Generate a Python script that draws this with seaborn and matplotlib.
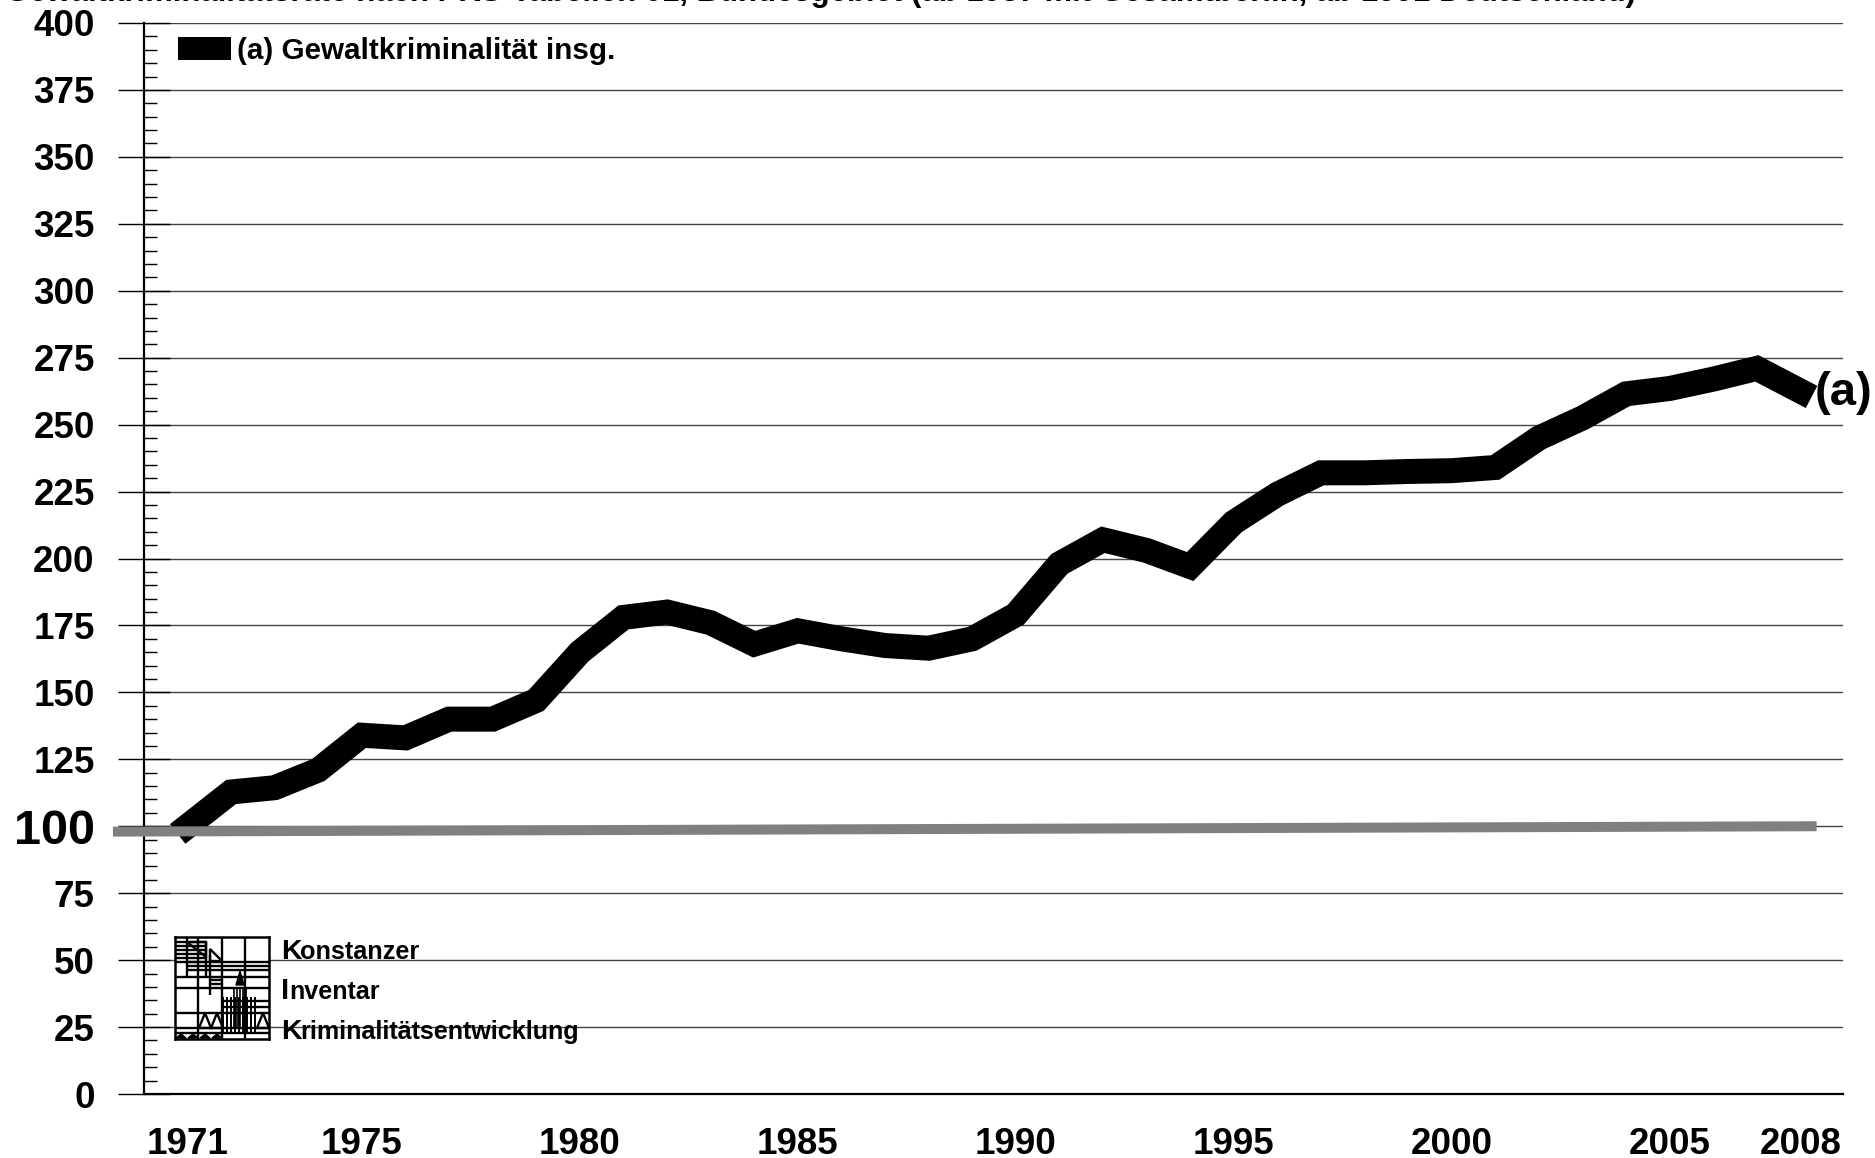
import matplotlib
matplotlib.use("Agg")
from matplotlib.patches import Patch
import matplotlib.pyplot as plt
import pandas as pd
import seaborn as sns

W, H = 1875, 1158

years = list(range(1971, 2009))
rate = [100, 112.8, 114.4, 121, 134, 133, 140, 140, 147, 165,
        178, 180, 176, 168, 173, 170, 167.5, 166.5, 170, 179,
        198, 207, 203, 197, 213.5, 224, 232, 232, 232.5, 232.8,
        234, 245, 252.5, 261.5, 263.5, 267, 271, 262.5]
baseline_years = [1969.29, 2008.37]
baseline = [98, 100]

y_ticks = list(range(0, 401, 25))
x_ticks = [1971, 1975, 1980, 1985, 1990, 1995, 2000, 2005, 2008]
title = "Gewaltkriminalitätsrate nach PKS-Tabellen 01, Bundesgebiet (ab 1987 mit Gesamtberlin, ab 1991 Deutschland)"
legend_label = "(a) Gewaltkriminalität insg."

sns.set_theme(style="white")
plt.rcParams["font.family"] = ["Liberation Sans", "DejaVu Sans"]
plt.rcParams["font.weight"] = "bold"
plt.rcParams["text.color"] = "black"
plt.rcParams["xtick.labelcolor"] = "black"
plt.rcParams["ytick.labelcolor"] = "black"

fig = plt.figure(figsize=(W / 100, H / 100), dpi=100)
ax = fig.add_axes([144 / W, 1 - 1094 / H, (1843 - 144) / W, (1094 - 23) / H])

df = pd.DataFrame({"year": years, "rate": rate})
sns.lineplot(data=df, x="year", y="rate", ax=ax, color="black", linewidth=18,
             solid_capstyle="projecting", solid_joinstyle="miter", zorder=3)
sns.lineplot(x=baseline_years, y=baseline, ax=ax, color="#808080", linewidth=7.2,
             solid_capstyle="butt", clip_on=False, zorder=4)

px_year = (1798 - 185) / 37
ax.set_xlim(1971 - 43.5 / px_year, 2008 + 42.5 / px_year)
ax.set_ylim(0, 400)
ax.set_xlabel("")
ax.set_ylabel("")

ax.set_yticks(y_ticks)
ax.set_yticks([v for v in range(0, 400, 5) if v % 25], minor=True)
ax.tick_params(axis="y", which="major", direction="inout", length=37, width=1,
               color="black", pad=17, labelsize=26.5, left=True)
ax.tick_params(axis="y", which="minor", direction="in", length=9, width=1,
               color="black", left=True)
for lab, val in zip(ax.get_yticklabels(), y_ticks):
    lab.set_fontweight("bold")
    if val == 100:
        lab.set_fontsize(35)

ax.set_xticks(x_ticks)
ax.tick_params(axis="x", length=0, pad=24, labelsize=26.5)
for lab in ax.get_xticklabels():
    lab.set_fontweight("bold")

ax.grid(axis="y", which="major", color="#444444", linewidth=1)
ax.grid(axis="x", visible=False)
sns.despine(ax=ax)
ax.spines["left"].set_color("black")
ax.spines["left"].set_linewidth(1.6)
ax.spines["bottom"].set_color("black")
ax.spines["bottom"].set_linewidth(1.6)

ax.legend(handles=[Patch(color="black", label=legend_label, linewidth=0)],
          loc="upper left", bbox_to_anchor=(34 / 1699, 1 - 14 / 1071), frameon=False,
          fontsize=21.3, handlelength=1.78, handleheight=0.8, handletextpad=0.23,
          borderpad=0, borderaxespad=0)

ax.annotate("(a)", xy=(years[-1], rate[-1]), xytext=(10.5, -1), textcoords="offset points",
            fontsize=34, fontweight="bold", va="center", ha="left", annotation_clip=False)

# cut off at the top edge, as in the scan
fig.text(5 / W, 1 - 1 / H, title, fontsize=22.4, fontweight="bold", va="baseline", ha="left")


def ptext(x, y, s, size):
    fig.text(x / W, 1 - y / H, s, fontsize=size, fontweight="bold", va="baseline", ha="left")


ptext(281, 959, "K", 20.5)
ptext(300, 959, "onstanzer", 18.2)
ptext(281, 999, "I", 21)
ptext(289, 999, "nventar", 18.1)
ptext(281, 1039, "K", 20.5)
ptext(300, 1039, "riminalitätsentwicklung", 18.1)

# logo
logo = fig.add_axes([175 / W, 1 - 1039 / H, 94 / W, 102 / H], facecolor="white")
logo.set_xlim(0, 94)
logo.set_ylim(102, 0)
logo.set_xticks([])
logo.set_yticks([])
logo.grid(False)
for sp in logo.spines.values():
    sp.set_color("black")
    sp.set_linewidth(1.8)

lw = 1.7
logo.vlines([23, 47, 70], 0, 102, color="black", lw=lw)
logo.hlines([40, 51, 76, 91, 96], 0, 94, color="black", lw=lw)
logo.hlines([5, 9, 13, 17, 21, 25], 0, 31, color="black", lw=lw)
logo.hlines([25, 29, 33], 12, 94, color="black", lw=lw)
logo.hlines([43, 47], 35, 47, color="black", lw=lw)
logo.vlines(12, 0, 40, color="black", lw=lw)
logo.vlines(31, 5, 40, color="black", lw=lw)
logo.vlines(35, 18, 58, color="black", lw=lw)
logo.vlines(range(48, 82, 4), 60, 96, color="black", lw=1.4)
logo.vlines(range(59, 72, 3), 52, 92, color="black", lw=1.2)
logo.hlines([64, 70], 47, 94, color="black", lw=lw)
logo.fill([61, 65, 69], [48, 34, 48], color="black")
logo.fill([12, 31, 31], [5, 5, 20], facecolor="white", edgecolor="black", lw=lw)
logo.fill([35, 35, 47], [12, 24, 24], facecolor="white", edgecolor="black", lw=lw)
for x0 in (24, 36, 82):
    logo.fill([x0, x0 + 6, x0 + 12], [91, 76, 91], facecolor="white", edgecolor="black", lw=lw)
for x0 in (1, 13, 25, 37):
    logo.fill([x0, x0 + 5, x0 + 10], [101, 97, 101], color="black")

fig.savefig("out.png", dpi=100)
